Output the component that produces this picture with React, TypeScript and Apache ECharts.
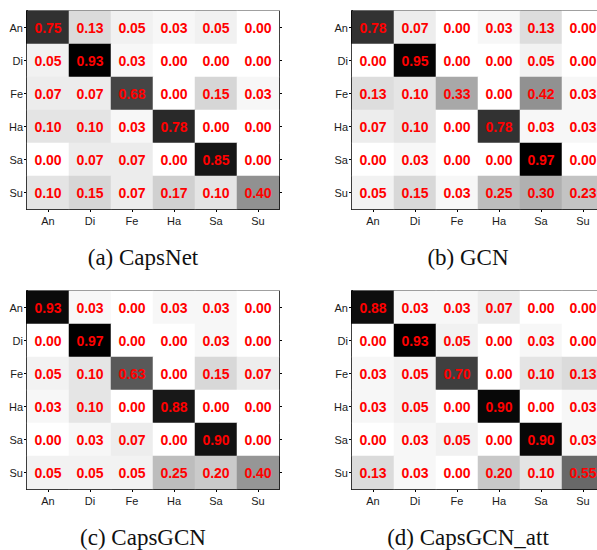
import React, { useEffect, useRef } from "react";
import * as echarts from "echarts";

const classes = ["An", "Di", "Fe", "Ha", "Sa", "Su"];

const capsNet = [
  [0.75, 0.13, 0.05, 0.03, 0.05, 0.0],
  [0.05, 0.93, 0.03, 0.0, 0.0, 0.0],
  [0.07, 0.07, 0.68, 0.0, 0.15, 0.03],
  [0.1, 0.1, 0.03, 0.78, 0.0, 0.0],
  [0.0, 0.07, 0.07, 0.0, 0.85, 0.0],
  [0.1, 0.15, 0.07, 0.17, 0.1, 0.4],
];

const gcn = [
  [0.78, 0.07, 0.0, 0.03, 0.13, 0.0],
  [0.0, 0.95, 0.0, 0.0, 0.05, 0.0],
  [0.13, 0.1, 0.33, 0.0, 0.42, 0.03],
  [0.07, 0.1, 0.0, 0.78, 0.03, 0.03],
  [0.0, 0.03, 0.0, 0.0, 0.97, 0.0],
  [0.05, 0.15, 0.03, 0.25, 0.3, 0.23],
];

const capsGcn = [
  [0.93, 0.03, 0.0, 0.03, 0.03, 0.0],
  [0.0, 0.97, 0.0, 0.0, 0.03, 0.0],
  [0.05, 0.1, 0.63, 0.0, 0.15, 0.07],
  [0.03, 0.1, 0.0, 0.88, 0.0, 0.0],
  [0.0, 0.03, 0.07, 0.0, 0.9, 0.0],
  [0.05, 0.05, 0.05, 0.25, 0.2, 0.4],
];

const capsGcnAtt = [
  [0.88, 0.03, 0.03, 0.07, 0.0, 0.0],
  [0.0, 0.93, 0.05, 0.0, 0.03, 0.0],
  [0.03, 0.05, 0.7, 0.0, 0.1, 0.13],
  [0.03, 0.05, 0.0, 0.9, 0.0, 0.03],
  [0.0, 0.03, 0.05, 0.0, 0.9, 0.03],
  [0.13, 0.03, 0.0, 0.2, 0.1, 0.55],
];

const captions = ["(a) CapsNet", "(b) GCN", "(c) CapsGCN", "(d) CapsGCN_att"];
const matrices = [capsNet, gcn, capsGcn, capsGcnAtt];

export default function App() {
  const ref = useRef<HTMLDivElement>(null);

  useEffect(() => {
    if (!ref.current) return;
    const chart = echarts.init(ref.current, null, { renderer: "svg" });

    const grids = [
      { left: 27, top: 11 },
      { left: 352, top: 11 },
      { left: 27, top: 291 },
      { left: 352, top: 291 },
    ].map((g) => ({
      left: g.left,
      top: g.top,
      width: 252,
      height: 198,
      show: true,
      borderColor: "#000",
      borderWidth: 1,
      backgroundColor: "transparent",
    }));

    const xAxis: any[] = [];
    const yAxis: any[] = [];
    const series: any[] = [];
    const visualMap: any[] = [];

    matrices.forEach((m, i) => {
      xAxis.push({
        type: "category",
        gridIndex: i,
        data: classes,
        position: "bottom",
        axisLine: { show: true, lineStyle: { color: "#000", width: 2 } },
        axisTick: { show: true, alignWithLabel: true, length: 3, lineStyle: { color: "#000" } },
        axisLabel: {
          margin: 6,
          fontSize: 11,
          color: "#1a1a1a",
          fontFamily: "Liberation Sans, Arial, sans-serif",
        },
        splitLine: { show: false },
      });
      yAxis.push({
        type: "category",
        gridIndex: i,
        data: classes,
        inverse: true,
        position: "left",
        axisLine: { show: true, lineStyle: { color: "#000", width: 2 } },
        axisTick: { show: true, alignWithLabel: true, length: 3, lineStyle: { color: "#000" } },
        axisLabel: {
          margin: 4,
          fontSize: 11,
          color: "#1a1a1a",
          fontFamily: "Liberation Sans, Arial, sans-serif",
        },
        splitLine: { show: false },
      });
      yAxis.push({
        type: "category",
        gridIndex: i,
        data: classes,
        inverse: true,
        position: "right",
        axisLine: { show: true, lineStyle: { color: "#000", width: 1 } },
        axisTick: { show: true, alignWithLabel: true, length: 3, lineStyle: { color: "#000" } },
        axisLabel: { show: false },
        splitLine: { show: false },
      });

      const data: any[] = [];
      let max = 0;
      m.forEach((row, r) =>
        row.forEach((v, c) => {
          data.push([c, r, v]);
          if (v > max) max = v;
        })
      );

      series.push({
        type: "heatmap",
        xAxisIndex: i,
        yAxisIndex: i * 2,
        data,
        label: {
          show: true,
          color: "#ff0000",
          fontSize: 14,
          fontWeight: "bold",
          fontFamily: "Liberation Sans, Arial, sans-serif",
          formatter: (p: any) => Number(p.value[2]).toFixed(2),
        },
        itemStyle: { borderWidth: 0 },
        emphasis: { disabled: true },
      });

      visualMap.push({
        show: false,
        seriesIndex: i,
        min: 0,
        max,
        dimension: 2,
        inRange: { color: ["#ffffff", "#000000"] },
      });
    });

    const captionPos = [
      { x: 143, y: 257 },
      { x: 468, y: 257 },
      { x: 143, y: 537 },
      { x: 468, y: 537 },
    ];

    const graphic = captions.map((t, i) => ({
      type: "text",
      x: captionPos[i].x,
      y: captionPos[i].y,
      style: {
        text: t,
        fontSize: 23,
        fontFamily: "Liberation Serif, Times New Roman, serif",
        fill: "#111",
        textAlign: "center",
        textVerticalAlign: "middle",
      },
    }));

    chart.setOption({
      animation: false,
      backgroundColor: "#ffffff",
      grid: grids,
      xAxis,
      yAxis,
      visualMap,
      series,
      graphic,
    });

    return () => chart.dispose();
  }, []);

  return (
    <div
      style={{
        position: "fixed",
        left: 0,
        top: 0,
        width: 597,
        height: 550,
        overflow: "hidden",
        background: "#fff",
      }}
    >
      <div ref={ref} style={{ width: 640, height: 550 }} />
    </div>
  );
}
